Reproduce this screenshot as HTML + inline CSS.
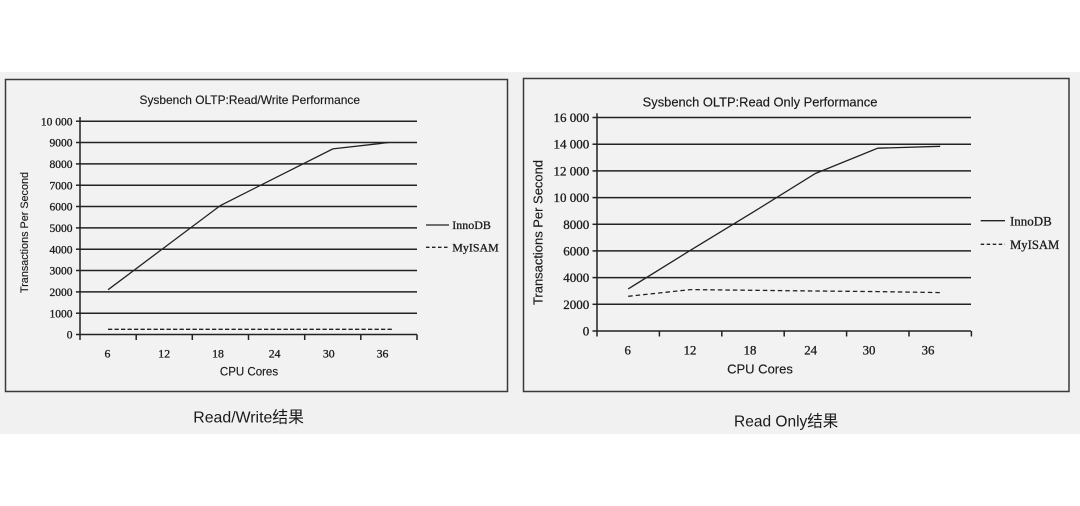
<!DOCTYPE html>
<html>
<head>
<meta charset="utf-8">
<style>
  html, body { margin:0; padding:0; background:#ffffff; }
  svg { display:block; }
  .tk { font-family:"Liberation Serif", serif; fill:#1a1a1a; stroke:#1a1a1a; stroke-width:0.3; }
  .sn { font-family:"Liberation Sans", sans-serif; fill:#1a1a1a; stroke:#1a1a1a; stroke-width:0.15; }
  .cap { font-family:"Liberation Sans", "Noto Sans CJK SC", sans-serif; fill:#1a1a1a; }
</style>
</head>
<body>
<svg width="1080" height="506" viewBox="0 0 1080 506" xmlns="http://www.w3.org/2000/svg">
  <rect x="0" y="0" width="1080" height="506" fill="#ffffff"/>
  <rect x="0" y="72" width="1080" height="362" fill="#f1f1f1"/>

  <!-- ================= LEFT CHART ================= -->
  <rect x="5.5" y="79.5" width="502" height="312" fill="#f2f2f2" stroke="#3a3a3a" stroke-width="1.5"/>
  <text class="sn" x="139.5" y="104" font-size="12" textLength="220.5" lengthAdjust="spacingAndGlyphs">Sysbench OLTP:Read/Write Performance</text>

  <g stroke="#222" stroke-width="1.5" fill="none">
    <line x1="80" y1="121.2" x2="417" y2="121.2"/>
    <line x1="80" y1="142.5" x2="417" y2="142.5"/>
    <line x1="80" y1="163.9" x2="417" y2="163.9"/>
    <line x1="80" y1="185.2" x2="417" y2="185.2"/>
    <line x1="80" y1="206.5" x2="417" y2="206.5"/>
    <line x1="80" y1="227.9" x2="417" y2="227.9"/>
    <line x1="80" y1="249.2" x2="417" y2="249.2"/>
    <line x1="80" y1="270.5" x2="417" y2="270.5"/>
    <line x1="80" y1="291.9" x2="417" y2="291.9"/>
    <line x1="80" y1="313.2" x2="417" y2="313.2"/>
    <line x1="80" y1="334.5" x2="417" y2="334.5"/>
    <line x1="80" y1="117" x2="80" y2="340"/>
    <line x1="76" y1="121.2" x2="80" y2="121.2"/>
    <line x1="76" y1="142.5" x2="80" y2="142.5"/>
    <line x1="76" y1="163.9" x2="80" y2="163.9"/>
    <line x1="76" y1="185.2" x2="80" y2="185.2"/>
    <line x1="76" y1="206.5" x2="80" y2="206.5"/>
    <line x1="76" y1="227.9" x2="80" y2="227.9"/>
    <line x1="76" y1="249.2" x2="80" y2="249.2"/>
    <line x1="76" y1="270.5" x2="80" y2="270.5"/>
    <line x1="76" y1="291.9" x2="80" y2="291.9"/>
    <line x1="76" y1="313.2" x2="80" y2="313.2"/>
    <line x1="76" y1="334.5" x2="80" y2="334.5"/>
    <line x1="136.2" y1="334.5" x2="136.2" y2="340"/>
    <line x1="192.3" y1="334.5" x2="192.3" y2="340"/>
    <line x1="248.5" y1="334.5" x2="248.5" y2="340"/>
    <line x1="304.7" y1="334.5" x2="304.7" y2="340"/>
    <line x1="360.8" y1="334.5" x2="360.8" y2="340"/>
    <line x1="417" y1="334.5" x2="417" y2="340"/>
  </g>

  <polyline fill="none" stroke="#222" stroke-width="1.3"
    points="108.1,289.7 164.2,247.6 220.4,205.5 276.6,177.2 332.8,148.9 388.9,142.5"/>
  <line x1="108" y1="329.3" x2="392" y2="329.3" stroke="#222" stroke-width="1.3" stroke-dasharray="4.3 2.2"/>

  <g class="tk" font-size="11.5" text-anchor="end">
    <text x="72.5" y="125.4">10 000</text>
    <text x="72.5" y="146.7">9000</text>
    <text x="72.5" y="168.1">8000</text>
    <text x="72.5" y="189.4">7000</text>
    <text x="72.5" y="210.7">6000</text>
    <text x="72.5" y="232.1">5000</text>
    <text x="72.5" y="253.4">4000</text>
    <text x="72.5" y="274.7">3000</text>
    <text x="72.5" y="296.1">2000</text>
    <text x="72.5" y="317.4">1000</text>
    <text x="72.5" y="338.7">0</text>
  </g>
  <g class="tk" font-size="11.8" text-anchor="middle">
    <text x="107.5" y="357.5">6</text>
    <text x="164.2" y="357.5">12</text>
    <text x="218" y="357.5">18</text>
    <text x="274.6" y="357.5">24</text>
    <text x="328.8" y="357.5">30</text>
    <text x="382.5" y="357.5">36</text>
  </g>
  <text class="sn" x="249" y="375.5" font-size="11.5" text-anchor="middle">CPU Cores</text>
  <text class="sn" font-size="11" text-anchor="middle" transform="translate(28,232.5) rotate(-90)" textLength="121" lengthAdjust="spacingAndGlyphs">Transactions Per Second</text>

  <line x1="426" y1="225" x2="449" y2="225" stroke="#222" stroke-width="1.3"/>
  <text class="tk" x="452.3" y="229.2" font-size="12" textLength="38.5" lengthAdjust="spacingAndGlyphs">InnoDB</text>
  <line x1="426" y1="247.3" x2="449" y2="247.3" stroke="#222" stroke-width="1.3" stroke-dasharray="3.5 2.5"/>
  <text class="tk" x="452.3" y="251.5" font-size="12" textLength="46.5" lengthAdjust="spacingAndGlyphs">MyISAM</text>

  <text class="cap" x="193.3" y="422.6" font-size="16" textLength="110.7" lengthAdjust="spacingAndGlyphs">Read/Write结果</text>

  <!-- ================= RIGHT CHART ================= -->
  <rect x="523.5" y="78.5" width="545.5" height="313" fill="#f2f2f2" stroke="#3a3a3a" stroke-width="1.5"/>
  <text class="sn" x="642.7" y="106.7" font-size="12.5" textLength="234.7" lengthAdjust="spacingAndGlyphs">Sysbench OLTP:Read Only Performance</text>

  <g stroke="#222" stroke-width="1.5" fill="none">
    <line x1="597" y1="117.5" x2="971" y2="117.5"/>
    <line x1="597" y1="144.2" x2="971" y2="144.2"/>
    <line x1="597" y1="170.9" x2="971" y2="170.9"/>
    <line x1="597" y1="197.6" x2="971" y2="197.6"/>
    <line x1="597" y1="224.3" x2="971" y2="224.3"/>
    <line x1="597" y1="250.9" x2="971" y2="250.9"/>
    <line x1="597" y1="277.6" x2="971" y2="277.6"/>
    <line x1="597" y1="304.3" x2="971" y2="304.3"/>
    <line x1="597" y1="331" x2="971" y2="331"/>
    <line x1="597" y1="113.3" x2="597" y2="336.5"/>
    <line x1="592.5" y1="117.5" x2="597" y2="117.5"/>
    <line x1="592.5" y1="144.2" x2="597" y2="144.2"/>
    <line x1="592.5" y1="170.9" x2="597" y2="170.9"/>
    <line x1="592.5" y1="197.6" x2="597" y2="197.6"/>
    <line x1="592.5" y1="224.3" x2="597" y2="224.3"/>
    <line x1="592.5" y1="250.9" x2="597" y2="250.9"/>
    <line x1="592.5" y1="277.6" x2="597" y2="277.6"/>
    <line x1="592.5" y1="304.3" x2="597" y2="304.3"/>
    <line x1="592.5" y1="331" x2="597" y2="331"/>
    <line x1="659.4" y1="331" x2="659.4" y2="336.5"/>
    <line x1="721.8" y1="331" x2="721.8" y2="336.5"/>
    <line x1="784.2" y1="331" x2="784.2" y2="336.5"/>
    <line x1="846.6" y1="331" x2="846.6" y2="336.5"/>
    <line x1="909" y1="331" x2="909" y2="336.5"/>
    <line x1="971.4" y1="331" x2="971.4" y2="336.5"/>
  </g>

  <polyline fill="none" stroke="#222" stroke-width="1.3"
    points="628.2,288.9 690.6,250.2 753,212.2 815.4,173.5 877.8,148.2 940.2,146.3"/>
  <polyline fill="none" stroke="#222" stroke-width="1.3" stroke-dasharray="4.5 3"
    points="628.2,296.3 690.6,289.6 753,290.3 815.4,291 877.8,291.6 940.2,292.6"/>

  <g class="tk" font-size="13" text-anchor="end">
    <text x="589.3" y="122">16 000</text>
    <text x="589.3" y="148.7">14 000</text>
    <text x="589.3" y="175.4">12 000</text>
    <text x="589.3" y="202.1">10 000</text>
    <text x="589.3" y="228.8">8000</text>
    <text x="589.3" y="255.4">6000</text>
    <text x="589.3" y="282.1">4000</text>
    <text x="589.3" y="308.8">2000</text>
    <text x="589.3" y="335.5">0</text>
  </g>
  <g class="tk" font-size="12.8" text-anchor="middle">
    <text x="627.7" y="354.6">6</text>
    <text x="690" y="354.6">12</text>
    <text x="750" y="354.6">18</text>
    <text x="810.6" y="354.6">24</text>
    <text x="869" y="354.6">30</text>
    <text x="928" y="354.6">36</text>
  </g>
  <text class="sn" x="760" y="373.3" font-size="13" text-anchor="middle">CPU Cores</text>
  <text class="sn" font-size="12.5" text-anchor="middle" transform="translate(542.6,232.5) rotate(-90)" textLength="145" lengthAdjust="spacingAndGlyphs">Transactions Per Second</text>

  <line x1="980.7" y1="220.7" x2="1005" y2="220.7" stroke="#222" stroke-width="1.3"/>
  <text class="tk" x="1010" y="225.4" font-size="13" textLength="41.7" lengthAdjust="spacingAndGlyphs">InnoDB</text>
  <line x1="980.7" y1="244.3" x2="1005" y2="244.3" stroke="#222" stroke-width="1.3" stroke-dasharray="3.5 2.5"/>
  <text class="tk" x="1010" y="249" font-size="13" textLength="49.3" lengthAdjust="spacingAndGlyphs">MyISAM</text>

  <text class="cap" x="734" y="426.6" font-size="16" textLength="104.3" lengthAdjust="spacingAndGlyphs">Read Only结果</text>
</svg>
</body>
</html>
